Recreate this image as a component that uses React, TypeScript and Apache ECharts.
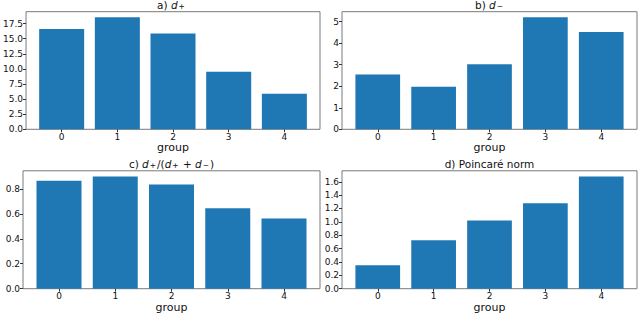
import React, { useEffect, useRef } from "react";
import * as echarts from "echarts";

const groups = [0, 1, 2, 3, 4];
const dPlus = [16.6, 18.55, 15.85, 9.55, 5.9];
const dMinus = [2.55, 1.98, 3.02, 5.2, 4.52];
const ratio = [0.865, 0.9, 0.836, 0.645, 0.563];
const poincare = [0.35, 0.725, 1.02, 1.28, 1.68];

const ticksA = [0, 2.5, 5, 7.5, 10, 12.5, 15, 17.5];
const ticksB = [0, 1, 2, 3, 4, 5];
const ticksC = [0, 0.2, 0.4, 0.6, 0.8];
const ticksD = [0, 0.2, 0.4, 0.6, 0.8, 1.0, 1.2, 1.4, 1.6];

const titles = [
  "{n|a) }{i|d}{s|+}",
  "{n|b) }{i|d}{s|−}",
  "{n|c) }{i|d}{s|+}{n|/(}{i|d}{s|+}{n| + }{i|d}{s|−}{n|)}",
  "{n|d) Poincaré norm}",
];

const FONT = "DejaVu Sans";
const TEXT = "#111";
const FRAME = "#7a7a7a";

const grids = [
  { left: 23, top: 11.7, width: 297, height: 117.6 },
  { left: 342, top: 11.7, width: 295, height: 117.6 },
  { left: 23, top: 170.8, width: 297, height: 117.9 },
  { left: 342, top: 170.8, width: 295, height: 117.9 },
];

export default function App() {
  const ref = useRef<HTMLDivElement>(null);
  useEffect(() => {
    if (!ref.current) return;
    const chart = echarts.init(ref.current, undefined, { renderer: "svg" });
    const seriesData = [dPlus, dMinus, ratio, poincare];
    const tickSets = [ticksA, ticksB, ticksC, ticksD];
    const decimals = [1, 0, 1, 1];
    const xMin = -0.64;
    const xMax = groups.length - 1 + 0.64;

    const option: any = {
      animation: false,
      grid: grids.map((g) => ({
        ...g,
        show: true,
        borderColor: FRAME,
        borderWidth: 1,
        backgroundColor: "transparent",
      })),
      xAxis: grids.map((g, i) => ({
        type: "value",
        gridIndex: i,
        min: xMin,
        max: xMax,
        name: "group",
        nameLocation: "middle",
        nameGap: 12,
        nameTextStyle: { fontFamily: FONT, fontSize: 11, color: TEXT },
        axisLine: { show: false, onZero: false },
        splitLine: { show: false },
        axisTick: { show: true, length: 3, customValues: groups, lineStyle: { color: "#333" } },
        axisLabel: {
          customValues: groups,
          fontFamily: FONT,
          fontSize: 9,
          color: TEXT,
          margin: 3,
          formatter: (v: number) => String(Math.round(v)),
        },
      })),
      yAxis: grids.map((g, i) => {
        const maxV = Math.max(...seriesData[i]);
        return {
          type: "value",
          gridIndex: i,
          min: 0,
          max: maxV * 1.05,
          axisLine: { show: false, onZero: false },
          splitLine: { show: false },
          axisTick: { show: true, length: 3, customValues: tickSets[i], lineStyle: { color: "#333" } },
          axisLabel: {
            customValues: tickSets[i],
            fontFamily: FONT,
            fontSize: 9,
            color: TEXT,
            margin: 3,
            formatter: (v: number) => v.toFixed(decimals[i]),
          },
        };
      }),
      series: seriesData.map((d, i) => ({
        type: "bar",
        xAxisIndex: i,
        yAxisIndex: i,
        barWidth: (0.8 * grids[i].width) / (xMax - xMin),
        itemStyle: { color: "#1f77b4" },
        data: groups.map((g, k) => [g, d[k]]),
      })),
      graphic: grids.map((g, i) => ({
        type: "text",
        x: g.left + g.width / 2,
        y: g.top - 1,
        style: {
          text: titles[i],
          textAlign: "center",
          textVerticalAlign: "bottom",
          fill: TEXT,
          rich: {
            n: { fontFamily: FONT, fontSize: 10.5, color: TEXT },
            i: { fontFamily: FONT, fontSize: 10.5, fontStyle: "italic", color: TEXT },
            s: { fontFamily: FONT, fontSize: 7.5, color: TEXT, lineHeight: 4, verticalAlign: "bottom", padding: [0, 1, 0, 1] },
          },
        },
      })),
    };
    chart.setOption(option);
    return () => chart.dispose();
  }, []);
  return (
    <div
      ref={ref}
      style={{ position: "absolute", left: 0, top: 0, width: 640, height: 315, background: "#fff" }}
    />
  );
}
